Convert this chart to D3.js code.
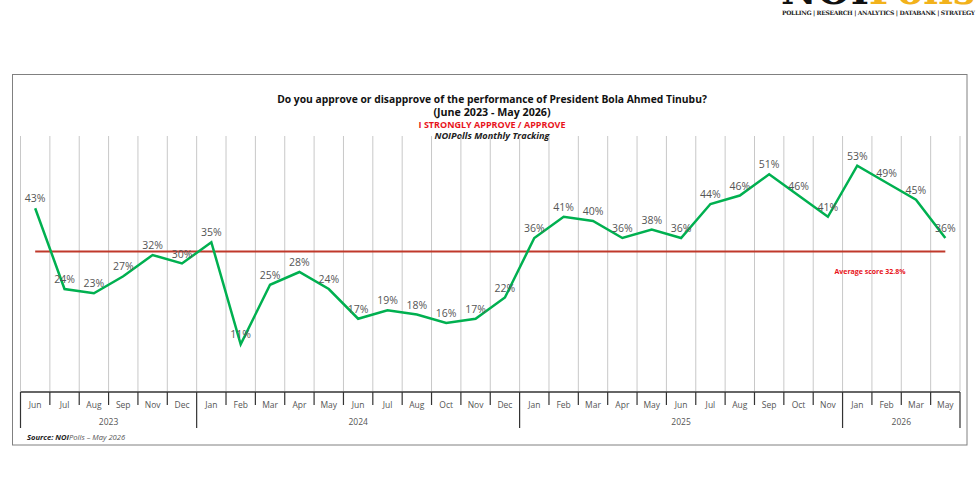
<!DOCTYPE html>
<html>
<head>
<meta charset="utf-8">
<script src="https://cdn.jsdelivr.net/npm/d3@7"></script>
<style>
  body { margin: 0; background: #fff; }
  svg { display: block; font-family: "Open Sans", "DejaVu Sans", sans-serif; }
</style>
</head>
<body>
<div id="chart"></div>
<script>
// Monthly approval series (June 2023 - May 2026)
const months = ["Jun", "Jul", "Aug", "Sep", "Nov", "Dec", "Jan", "Feb", "Mar", "Apr", "May", "Jun",
  "Jul", "Aug", "Oct", "Nov", "Dec", "Jan", "Feb", "Mar", "Apr", "May", "Jun", "Jul",
  "Aug", "Sep", "Oct", "Nov", "Jan", "Feb", "Mar", "May"];
const years = ["2023", "2023", "2023", "2023", "2023", "2023", "2024", "2024", "2024", "2024", "2024", "2024",
  "2024", "2024", "2024", "2024", "2024", "2025", "2025", "2025", "2025", "2025", "2025", "2025",
  "2025", "2025", "2025", "2025", "2026", "2026", "2026", "2026"];
const approval = [43, 24, 23, 27, 32, 30, 35, 11, 25, 28, 24, 17, 19, 18, 16, 17, 22, 36, 41, 40, 36, 38, 36, 44,
  46, 51, 46, 41, 53, 49, 45, 36];
const averageScore = 32.8;

const W = 980, H = 500;
const svg = d3.select("#chart").append("svg")
  .attr("width", W)
  .attr("height", H);

// Logo (cropped at top edge like the reference)
const logo = svg.append("text")
  .attr("x", 781)
  .attr("y", 4)
  .attr("font-family", "'DejaVu Serif', serif")
  .attr("font-weight", "bold")
  .attr("font-size", 40)
  .attr("textLength", 194)
  .attr("lengthAdjust", "spacingAndGlyphs");
logo.append("tspan").attr("fill", "#111").text("NOI");
logo.append("tspan").attr("fill", "#f2b21b").text("Polls");
svg.append("text")
  .attr("x", 782)
  .attr("y", 15)
  .attr("font-family", "'DejaVu Serif', serif")
  .attr("font-weight", "bold")
  .attr("font-size", 6)
  .attr("fill", "#222")
  .attr("textLength", 193)
  .text("POLLING | RESEARCH | ANALYTICS | DATABANK | STRATEGY");

// Outer frame
svg.append("rect")
  .attr("x", 12.5)
  .attr("y", 74.5)
  .attr("width", 954.5)
  .attr("height", 370.5)
  .attr("fill", "none")
  .attr("stroke", "#808080")
  .attr("stroke-width", 1);

// Titles
const cx = 492;
svg.append("text").attr("x", cx).attr("y", 103).attr("text-anchor", "middle")
  .attr("font-weight", "bold").attr("font-size", 10.3).attr("fill", "#111")
  .text("Do you approve or disapprove of the performance of President Bola Ahmed Tinubu?");
svg.append("text").attr("x", cx).attr("y", 116).attr("text-anchor", "middle")
  .attr("font-weight", "bold").attr("font-size", 10.7).attr("fill", "#111")
  .text("(June 2023 - May 2026)");
svg.append("text").attr("x", cx).attr("y", 127.5).attr("text-anchor", "middle")
  .attr("font-weight", "bold").attr("font-size", 9).attr("fill", "#e8141b")
  .text("I STRONGLY APPROVE / APPROVE");
svg.append("text").attr("x", cx).attr("y", 139).attr("text-anchor", "middle")
  .attr("font-weight", "bold").attr("font-style", "italic").attr("font-size", 9.2).attr("fill", "#222")
  .text("NOIPolls Monthly Tracking");

// Scales
const x = d3.scaleBand()
  .domain(d3.range(months.length))
  .range([20.5, 960])
  .padding(0);
const y = d3.scaleLinear()
  .domain([0, 60])
  .range([391, 136]);

const px = i => x(i) + x.bandwidth() / 2;
const edge = i => i < months.length ? x(i) : x.range()[1];

// Vertical gridlines
svg.append("g").selectAll("line")
  .data(d3.range(months.length + 1))
  .join("line")
  .attr("x1", edge)
  .attr("x2", edge)
  .attr("y1", y(60))
  .attr("y2", y(0))
  .attr("stroke", "#c8c8c8")
  .attr("stroke-width", 1);

// Average line
svg.append("line")
  .attr("x1", px(0))
  .attr("x2", px(months.length - 1))
  .attr("y1", y(averageScore))
  .attr("y2", y(averageScore))
  .attr("stroke", "#c0392b")
  .attr("stroke-width", 2);

svg.append("text")
  .attr("x", 870)
  .attr("y", 274)
  .attr("text-anchor", "middle")
  .attr("font-weight", "bold")
  .attr("font-size", 7)
  .attr("fill", "#e8141b")
  .text(`Average score ${averageScore}%`);

// Approval line
const line = d3.line()
  .x((d, i) => px(i))
  .y(d => y(d));

svg.append("path")
  .datum(approval)
  .attr("fill", "none")
  .attr("stroke", "#00b050")
  .attr("stroke-width", 2.5)
  .attr("d", line);

// Data labels
svg.append("g").selectAll("text")
  .data(approval)
  .join("text")
  .attr("x", (d, i) => px(i))
  .attr("y", d => y(d) - 6)
  .attr("text-anchor", "middle")
  .attr("font-size", 10.5)
  .attr("fill", "#555")
  .text(d => d + "%");

// X axis: baseline, month separators, year separators
const axisY = y(0) + 1;
svg.append("line")
  .attr("x1", x.range()[0])
  .attr("x2", x.range()[1])
  .attr("y1", axisY)
  .attr("y2", axisY)
  .attr("stroke", "#333")
  .attr("stroke-width", 1.5);

const yearStarts = d3.range(months.length + 1)
  .filter(i => i === 0 || i === months.length || years[i] !== years[i - 1]);

svg.append("g").selectAll("line")
  .data(d3.range(months.length + 1))
  .join("line")
  .attr("x1", edge)
  .attr("x2", edge)
  .attr("y1", axisY)
  .attr("y2", i => yearStarts.includes(i) ? 428 : 405)
  .attr("stroke", "#333")
  .attr("stroke-width", 1.2);

svg.append("g").selectAll("text")
  .data(months)
  .join("text")
  .attr("x", (d, i) => px(i))
  .attr("y", 408)
  .attr("text-anchor", "middle")
  .attr("font-size", 8.5)
  .attr("fill", "#555")
  .text(d => d);

const yearGroups = d3.groups(years.map((yr, i) => ({ yr, i })), d => d.yr);
svg.append("g").selectAll("text")
  .data(yearGroups)
  .join("text")
  .attr("x", g => {
    const first = g[1][0].i, last = g[1][g[1].length - 1].i;
    return (x(first) + x(last) + x.bandwidth()) / 2;
  })
  .attr("y", 425)
  .attr("text-anchor", "middle")
  .attr("font-size", 8.5)
  .attr("fill", "#555")
  .text(g => g[0]);

// Source note
const src = svg.append("text")
  .attr("x", 27)
  .attr("y", 440)
  .attr("font-size", 7.6)
  .attr("font-style", "italic")
  .attr("fill", "#222");
src.append("tspan").attr("font-weight", "bold").text("Source: NOI");
src.append("tspan").attr("fill", "#555").text("Polls  \u2013  May 2026");
</script>
</body>
</html>
